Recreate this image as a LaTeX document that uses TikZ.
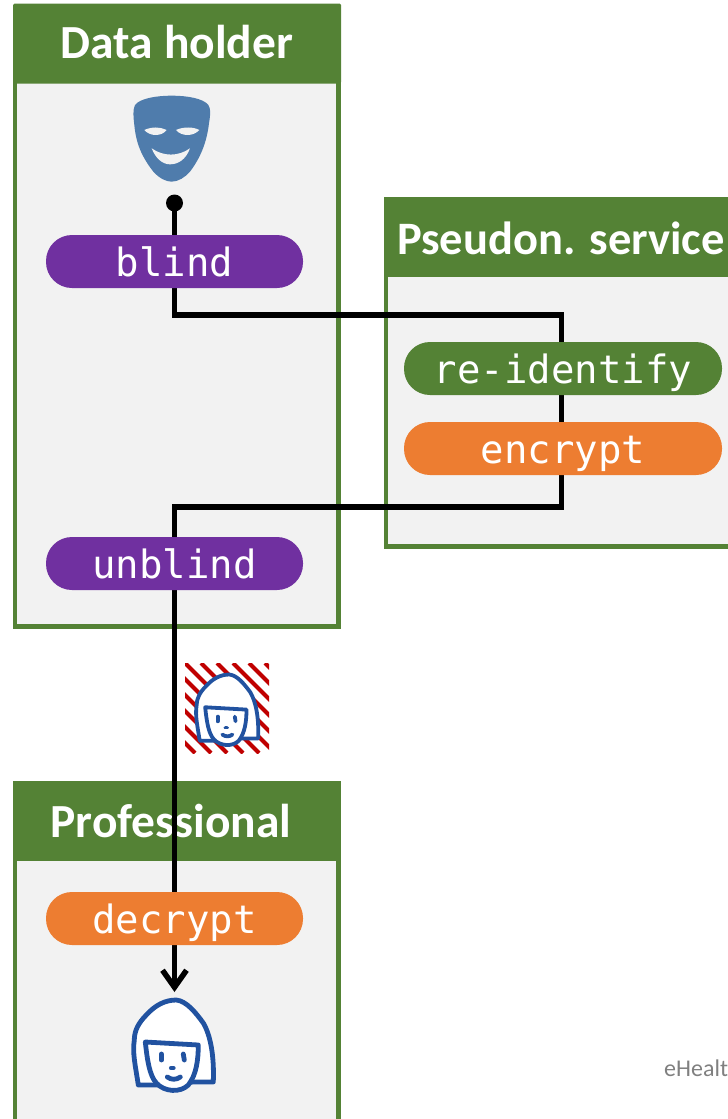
\documentclass[tikz,border=0pt]{standalone}
\usepackage{fontspec}
\setmainfont{Carlito}
\setmonofont{DejaVu Sans Mono}
\usetikzlibrary{arrows.meta}
\definecolor{pgreen}{HTML}{548235}
\definecolor{ppurple}{HTML}{7030A0}
\definecolor{porange}{HTML}{ED7D31}
\definecolor{pbg}{HTML}{F2F2F2}
\definecolor{pblue}{HTML}{2152A0}
\definecolor{pmask}{HTML}{4F7CAC}
\definecolor{pred}{HTML}{C00000}
\pgfdeclarelayer{boxes}
\pgfdeclarelayer{lines}
\pgfsetlayers{boxes,lines,main}
\def\facelw{4.8pt}
\tikzset{
  panelbody/.style={draw=pgreen,line width=4.5pt,fill=pbg,anchor=north west,inner sep=0pt,outer sep=0pt},
  panelhead/.style={fill=pgreen,anchor=north west,inner sep=0pt,outer sep=0pt},
  headtext/.style={text=white,font=\fontsize{47.5}{47.5}\selectfont\bfseries,inner sep=0pt,anchor=base},
  pill/.style={rounded corners=26pt,minimum height=53pt,inner sep=0pt,text=white,text height=32pt,text depth=3pt,font=\fontsize{39}{39}\ttfamily},
  wire/.style={line width=5.5pt,black,line join=miter},
  facepen/.style={draw=pblue,line width=\facelw,line join=round,line cap=round},
  pics/face/.style={code={
    \draw[facepen,fill=white] (-35,40) .. controls (-38,20) and (-41,8) .. (-39,-5)
      .. controls (-39,-14) and (-35,-22) .. (-27,-30)
      .. controls (-18,-40) and (-8,-45) .. (3,-45)
      .. controls (13,-44) and (22,-33) .. (30,-22)
      .. controls (37,-10) and (41,10) .. (40,37) -- (20,37) -- (-18,40) -- cycle;
    \draw[facepen,fill=white] (-28,-3) -- (25,0) .. controls (25,15) and (23,30) .. (15,40)
      .. controls (7,48) and (-9,47) .. (-17,38)
      .. controls (-24,30) and (-26,15) .. (-28,-3) -- cycle;
    \draw[facepen] (-12,9) -- (-12,15);
    \draw[facepen] (10,9) -- (11,15);
    \draw[facepen] (-2,23) -- (0,23);
    \draw[facepen] (-6,32) .. controls (-2,35) and (3,35) .. (7,32);
  }}
}
\begin{document}
\begin{tikzpicture}[x=1pt,y=-1pt]
\useasboundingbox (0,0) rectangle (728,1119);
\clip (0,0) rectangle (728,1119);
% panels
\begin{pgfonlayer}{boxes}
\node[panelbody,minimum width=323.5pt,minimum height=565.5pt] (holderbody) at (15,61) {};
\node[panelhead,minimum width=328pt,minimum height=80pt,rounded corners=1.5pt] (holderhead) at (13,3.5) {};
\node[panelbody,minimum width=360pt,minimum height=300.5pt] (servicebody) at (386,246) {};
\node[panelhead,minimum width=364pt,minimum height=80pt] (servicehead) at (384,196.5) {};
\node[panelbody,minimum width=323.5pt,minimum height=360pt] (probody) at (15,820) {};
\node[panelhead,minimum width=328pt,minimum height=80pt] (prohead) at (13,780.5) {};
\node[headtext] (holdertitle) at (177,58) {Data holder};
\node[headtext,font=\fontsize{46.5}{46.5}\selectfont\bfseries] (servicetitle) at (561,254) {Pseudon. service};
\node[headtext] (protitle) at (171,837) {Professional};
\end{pgfonlayer}
% pills
\node[pill,fill=ppurple,minimum width=257pt] (blind) at (174.5,261.5) {blind};
\node[pill,fill=pgreen,minimum width=318pt] (reid) at (563,368.5) {re-identify};
\node[pill,fill=porange,minimum width=318pt] (encrypt) at (563,448.5) {encrypt};
\node[pill,fill=ppurple,minimum width=257pt] (unblind) at (174.5,563.5) {unblind};
\node[pill,fill=porange,minimum width=257pt] (decrypt) at (174.5,918.5) {decrypt};
% mask
\begin{scope}[shift={(100,80)},x=0.3333pt,y=-0.3333pt]
\fill[pmask] (215,47) .. controls (170,47) and (120,55) .. (105,75)
  .. controls (98,90) and (100,110) .. (103,135)
  .. controls (108,190) and (125,230) .. (160,275)
  .. controls (180,297) and (200,305) .. (215,305)
  .. controls (235,305) and (255,292) .. (270,275)
  .. controls (300,235) and (320,190) .. (327,130)
  .. controls (332,100) and (332,85) .. (325,75)
  .. controls (310,55) and (260,47) .. (215,47) -- cycle;
\fill[pbg] (133,150) .. controls (155,140) and (180,140) .. (200,150)
  .. controls (185,170) and (150,170) .. (133,150) -- cycle;
\fill[pbg] (228,150) .. controls (250,140) and (280,140) .. (298,150)
  .. controls (280,170) and (245,170) .. (228,150) -- cycle;
\fill[pbg] (155,205) .. controls (190,230) and (235,230) .. (270,205)
  .. controls (258,238) and (235,253) .. (210,253)
  .. controls (187,253) and (167,235) .. (155,205) -- cycle;
\end{scope}
% hatched square and small face
\begin{scope}
\clip (185,663) rectangle (269,753);
\fill[white] (185,663) rectangle (269,753);
\foreach \k in {-6,...,10} {
  \draw[pred,line width=4.2pt] ({185+\k*16},663) -- ({185+\k*16+90},753);
}
\end{scope}
\begin{scope}
\def\facelw{3.8pt}
\pic[scale=0.78,transform shape] (smallface) at (227,709.6) {face};
\end{scope}
% large face
\pic (bigface) at (173.3,1045) {face};
% connector
\node[circle,fill=black,minimum size=17pt,inner sep=0pt] (dot) at (174.5,203) {};
\coordinate (c1) at (174.5,315);
\coordinate (c2) at (561.5,315);
\coordinate (c3) at (561.5,507);
\coordinate (c4) at (174.5,507);
\coordinate (tip) at (174.5,992);
\begin{pgfonlayer}{lines}
\draw[wire,-{Straight Barb[length=17pt,width=24pt,line width=5.5pt]}]
  (dot.center) -- (c1) -- (c2) -- (c3) -- (c4) -- (tip);
\end{pgfonlayer}
\node[anchor=base west,inner sep=0pt,text=black!50,font=\fontsize{24}{24}\selectfont] (note) at (664,1076) {eHealth};
\end{tikzpicture}
\end{document}
